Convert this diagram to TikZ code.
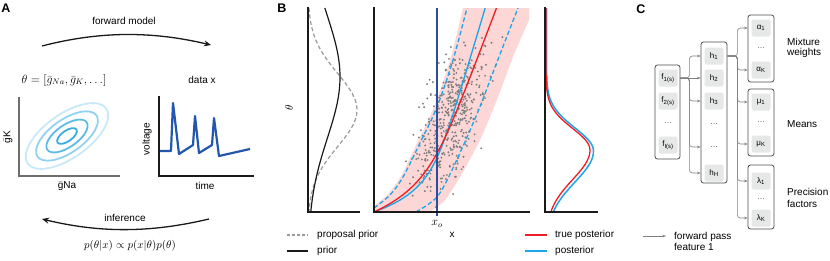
\documentclass[tikz,border=0pt]{standalone}
\usepackage[no-math]{fontspec}
\setmainfont{Liberation Sans}
\usepackage{xcolor}
\usetikzlibrary{arrows.meta}
\definecolor{anneaua}{HTML}{3AACE0}
\definecolor{anneaub}{HTML}{5DBBE8}
\definecolor{anneauc}{HTML}{92D2F0}
\definecolor{anneaud}{HTML}{C9E8F8}
\definecolor{bleutrace}{HTML}{2356AE}
\definecolor{rose}{HTML}{FDD6D6}
\definecolor{rouge}{HTML}{EE1D23}
\definecolor{bleuclair}{HTML}{1BA6E8}
\definecolor{marine}{HTML}{2D4C9C}
\definecolor{grispoint}{HTML}{7E7E7E}
\definecolor{gristiret}{HTML}{999999}
\definecolor{grisaxe}{HTML}{6E6E6E}
\definecolor{noir}{HTML}{1A1A1A}
\definecolor{grisfonce}{HTML}{4D4D4D}
\definecolor{cellgris}{HTML}{E6E8E8}
\definecolor{grisfleche}{HTML}{808080}

\begin{document}
\begin{tikzpicture}[x=1pt, y=-1pt,
    every node/.style={font=\fontsize{10}{12}\selectfont, inner sep=1pt},
    lettre/.style={font=\fontsize{12.5}{14}\selectfont\bfseries},
    axe/.style={line width=1.3pt, line cap=rect, noir},
    gros/.style={noir, line width=1.3pt, -{Stealth[length=7pt, width=6pt]}},
    couche/.style={draw=grisfonce, line width=0.8pt, rounded corners=2.5pt, fill=white},
    cellule/.style={fill=cellgris, rounded corners=2pt, minimum width=19pt, minimum height=17pt, inner sep=0pt, font=\fontsize{8}{9}\selectfont},
    vide/.style={minimum width=19pt, minimum height=17pt, inner sep=0pt, font=\fontsize{8}{9}\selectfont, text=grisfonce},
    fleche/.style={draw=grisfleche, line width=0.6pt, rounded corners=3pt, -{Stealth[length=3.5pt, width=2.6pt]}}]
  \useasboundingbox (0,0) rectangle (830,260);

  % Panneau A
  \node[lettre] (lettreA) at (6,8) {A};
  \node (fwdlab) at (124,21) {forward model};
  \coordinate (fwddeb) at (42,46);
  \coordinate (fwdfin) at (211,45);
  \draw[gros] (fwddeb) .. controls (100,31) and (152,31) .. (fwdfin);
  \node[font=\fontsize{12}{14}\selectfont] (theta) at (64,80) {$\theta=[\bar{g}_{Na},\bar{g}_K,\ldots]$};
  \node (donnees) at (202,80) {data x};
  % Contours
  \foreach \f/\c in {1/anneaud, 0.75/anneauc, 0.5/anneaub, 0.24/anneaua}
    \draw[\c, line width=1.8pt, rotate around={35:(67,136)}] (67,136) ellipse [x radius=48*\f, y radius=22*\f];
  \draw[axe, grisaxe] (19,98) -- (19,176) -- (119,176);
  \node[rotate=90] (gk) at (8,137) {$\bar{\mbox{g}}$K};
  \node (gna) at (67,186) {$\bar{\mbox{g}}$Na};
  % Trace
  \draw[bleutrace, line width=2.2pt, line join=round] (160,151) -- (171,151) -- (173,103) -- (179,154) -- (193,145) -- (195,116) -- (199,153) -- (212,145) -- (214,118) -- (219,156) -- (250,149);
  \draw[axe] (159,97) -- (159,176) -- (253,176);
  \node[rotate=90] (volt) at (147,139) {voltage};
  \node (temps) at (205,186) {time};
  \coordinate (infdeb) at (209,219);
  \coordinate (inffin) at (42,219);
  \draw[gros] (infdeb) .. controls (150,233) and (100,233) .. (inffin);
  \node (inflab) at (125,218) {inference};
  \node[font=\fontsize{10.95}{12}\selectfont] (bayes) at (130,246) {$p(\theta|x)\propto p(x|\theta)p(\theta)$};

  % Panneau B
  \node[lettre] (lettreB) at (282,8) {B};
  \draw[gristiret, line width=1.2pt, dash pattern=on 4pt off 2.5pt] plot[domain=8:212, samples=60] ({308+49*exp(-0.5*((\x-110)/36.5)^2)}, \x);
  \draw[noir, line width=1.2pt] plot[domain=8:212, samples=60] ({308+32*exp(-0.5*((\x-77)/61)^2)}, \x);
  \draw[axe] (308,8) -- (308,212) -- (359,212);
  \node[rotate=90, font=\fontsize{10.95}{12}\selectfont] (thetaaxe) at (289,108) {$\theta$};
  % Bande et simulations
  \begin{scope}
    \clip (374,8) rectangle (529,212);
    \fill[rose] (374,212) -- plot[smooth] coordinates {(374,206) (388,194) (401,176) (417,143) (434,107) (450,60) (463,8)} -- (529,8) -- plot[smooth] coordinates {(529,20) (513,57) (498,97) (480,140) (460,177) (445,200) (430,212)} -- cycle;
    \pgfmathsetseed{42}
    \foreach \i in {1,...,460} {
      \pgfmathsetmacro\uu{95+33*(rand+rand+rand)}
      \pgfmathsetmacro\xx{425+0.27*\uu+14*(rand+rand+rand)}
      \fill[grispoint] (\xx,{212-\uu}) circle[radius=1.05];
    }
    \draw[bleuclair, line width=1.3pt, dash pattern=on 4.5pt off 2.5pt] plot[smooth] coordinates {(374,208) (390,195) (403,177) (420,143) (437,107) (453,60) (467,8)};
    \draw[bleuclair, line width=1.3pt, dash pattern=on 4.5pt off 2.5pt] plot[smooth] coordinates {(416,212) (437,197) (453,168) (477,114) (497,62) (518,8)};
    \draw[bleuclair, line width=1.3pt] plot[domain=0:204, samples=50] ({374+0.30*\x+50*(1-exp(-\x/20))}, {212-\x});
    \draw[rouge, line width=1.3pt] plot[domain=0:204, samples=50] ({374+0.38*\x+45*(1-exp(-\x/25))}, {212-\x});
  \end{scope}
  \draw[marine, line width=1.3pt] (437,8) -- (437,216);
  \draw[axe] (374,8) -- (374,212) -- (529,212);
  \node[font=\fontsize{12}{14}\selectfont] (xo) at (437,224) {$x_o$};
  \node (xlab) at (452,235) {x};
  % Posterieur
  \draw[bleuclair, line width=1.5pt] plot[domain=8:151, samples=50] ({546.5+47*exp(-0.5*((\x-151)/23)^2)}, \x) -- plot[domain=151:212, samples=30] ({546.5+47*exp(-0.5*((\x-151)/31)^2)}, \x);
  \draw[rouge, line width=1.3pt] plot[domain=8:150, samples=50] ({546+44*exp(-0.5*((\x-150)/21.5)^2)}, \x) -- plot[domain=150:212, samples=30] ({546+44*exp(-0.5*((\x-150)/29.5)^2)}, \x);
  \draw[axe] (545,8) -- (545,212) -- (597,212);
  % Legende B
  \draw[gristiret, line width=1.2pt, dash pattern=on 3pt off 2pt] (287,235) -- (308,235);
  \node[anchor=west] (legprop) at (316,235) {proposal prior};
  \draw[noir, line width=1.2pt] (287,251) -- (308,251);
  \node[anchor=west] (legprior) at (316,251) {prior};
  \draw[rouge, line width=1.5pt] (525,235) -- (547,235);
  \node[anchor=west] (legvrai) at (554,235) {true posterior};
  \draw[bleuclair, line width=1.5pt] (525,251) -- (547,251);
  \node[anchor=west] (legpost) at (554,251) {posterior};

  % Panneau C
  \node[lettre] (lettreC) at (641,9) {C};
  % Couches
  \node[couche, minimum width=25pt, minimum height=94pt] (fbox) at (667.5,112) {};
  \node[couche, minimum width=26pt, minimum height=141pt] (hbox) at (714,112.5) {};
  \node[couche, minimum width=26pt, minimum height=67pt] (abox) at (761,48.5) {};
  \node[couche, minimum width=26pt, minimum height=67pt] (mbox) at (761,122.5) {};
  \node[couche, minimum width=26pt, minimum height=64pt] (lbox) at (761,197) {};
  % Cellules
  \node[cellule] (f1) at (668,78) {f\textsubscript{1(s)}};
  \node[cellule] (f2) at (668,101) {f\textsubscript{2(s)}};
  \node[vide] (fp) at (668,123) {\dots};
  \node[cellule] (fI) at (668,145) {f\textsubscript{I(s)}};
  \node[cellule] (h1) at (714,56) {h\textsubscript{1}};
  \node[cellule] (h2) at (714,78) {h\textsubscript{2}};
  \node[cellule] (h3) at (714,101) {h\textsubscript{3}};
  \node[vide] (hp1) at (714,124) {\dots};
  \node[vide] (hp2) at (714,147) {\dots};
  \node[cellule] (hH) at (714,173) {h\textsubscript{H}};
  \node[cellule] (a1) at (761,28) {α\textsubscript{1}};
  \node[vide] (ap) at (761,48) {\dots};
  \node[cellule] (aK) at (761,70) {α\textsubscript{K}};
  \node[cellule] (m1) at (761,102) {μ\textsubscript{1}};
  \node[vide] (mp) at (761,122) {\dots};
  \node[cellule] (mK) at (761,144) {μ\textsubscript{K}};
  \node[cellule] (l1) at (761,181) {λ\textsubscript{1}};
  \node[vide] (lp) at (761,199) {\dots};
  \node[cellule] (lK) at (761,218) {λ\textsubscript{K}};
  % Fleches
  \draw[fleche] (fbox.east |- f1) -- (hbox.west |- h2);
  \foreach \c in {h1,h3,hp2,hH}
    \draw[fleche] (fbox.east |- f1) -- ++(9,0) |- (hbox.west |- \c);
  \foreach \c/\b in {a1/abox, aK/abox, m1/mbox, mK/mbox, l1/lbox, lK/lbox}
    \draw[fleche] (hbox.east |- h1) -- ++(10,0) |- (\b.west |- \c);
  % Etiquettes
  \node[anchor=west, align=left, font=\fontsize{10}{10.5}\selectfont] (lblmix) at (786,48) {Mixture\\weights};
  \node[anchor=west] (lblmoy) at (786,124) {Means};
  \node[anchor=west, align=left, font=\fontsize{10}{11.5}\selectfont] (lblprec) at (786,198) {Precision\\factors};
  \coordinate (legdeb) at (643,236);
  \coordinate (legfin) at (666,236);
  \draw[fleche] (legdeb) -- (legfin);
  \node[anchor=west, align=left, font=\fontsize{10}{11}\selectfont] (legpasse) at (673,241.5) {forward pass\\feature 1};
\end{tikzpicture}
\end{document}
